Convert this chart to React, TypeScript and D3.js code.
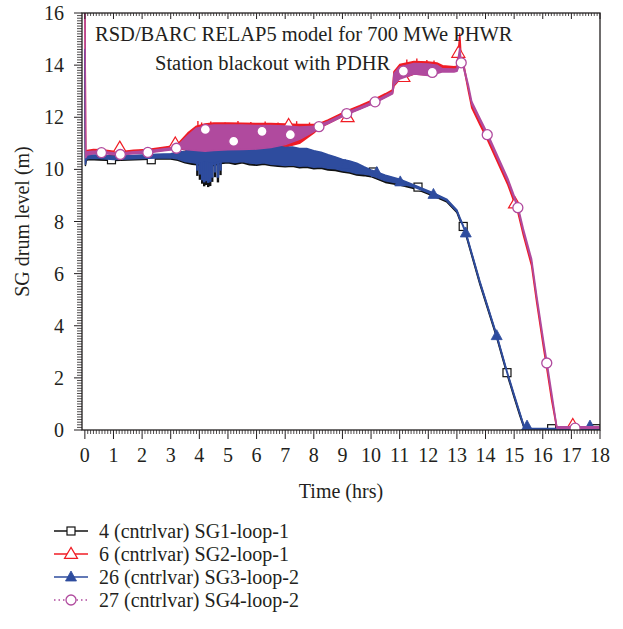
import React from "react";
import * as d3 from "d3";

// ---- axis ticks ----
const xMajorTicks = d3.range(0, 19, 1);
const yMajorTicks = d3.range(0, 17, 2);

// ---- SG1 / SG3 (lower pair) share one time grid (hrs) ----
const lowerT = [0, 0.02, 0.05, 0.15, 0.5, 1.0, 1.5, 2.0, 2.5, 3.0, 3.25, 3.5, 3.75, 4.0, 4.25, 4.5, 4.75, 5.0, 5.25, 5.5, 5.75, 6.0, 6.25, 6.5, 6.75, 7.0, 7.25, 7.5, 7.75, 8.0, 8.25, 8.5, 8.75, 9.0, 9.25, 9.5, 9.75, 10.0, 10.5, 11.0, 11.5, 12.18, 12.64, 13.0, 13.1, 13.2, 13.31, 13.8, 14.39, 14.75, 15.0, 15.2, 15.37, 18.0];
// SG1 drum level envelope (m): lower and upper edge of the oscillation band
const sg1Lo = [14.5, 10.15, 10.35, 10.38, 10.36, 10.34, 10.36, 10.38, 10.4, 10.4, 10.35, 10.25, 10.2, 10.17, 10.2, 10.15, 10.23, 10.25, 10.2, 10.25, 10.18, 10.16, 10.2, 10.15, 10.12, 10.1, 10.12, 10.06, 10.08, 10.02, 10.04, 9.98, 9.96, 9.9, 9.86, 9.78, 9.76, 9.72, 9.5, 9.4, 9.27, 8.98, 8.76, 8.35, 8.06, 7.8, 7.5, 5.6, 3.55, 2.15, 1.25, 0.55, 0.0, 0.0];
const sg1Hi = [14.5, 10.25, 10.55, 10.5, 10.5, 10.46, 10.48, 10.5, 10.54, 10.56, 10.62, 10.66, 10.74, 10.76, 10.82, 10.76, 10.8, 10.78, 10.84, 10.81, 10.86, 10.84, 10.88, 10.82, 10.86, 10.8, 10.82, 10.76, 10.76, 10.68, 10.62, 10.52, 10.44, 10.34, 10.28, 10.2, 10.06, 9.94, 9.74, 9.58, 9.36, 9.06, 8.82, 8.4, 8.12, 7.86, 7.56, 5.68, 3.62, 2.22, 1.32, 0.62, 0.05, 0.05];
// SG3 drum level envelope (m)
const sg3Lo = [14.6, 10.2, 10.4, 10.42, 10.42, 10.38, 10.4, 10.42, 10.44, 10.45, 10.4, 10.3, 10.26, 10.22, 10.25, 10.2, 10.28, 10.3, 10.26, 10.3, 10.24, 10.22, 10.25, 10.2, 10.18, 10.15, 10.17, 10.12, 10.14, 10.08, 10.1, 10.04, 10.02, 9.96, 9.92, 9.84, 9.82, 9.77, 9.56, 9.46, 9.32, 9.02, 8.8, 8.38, 8.1, 7.85, 7.54, 5.65, 3.6, 2.2, 1.3, 0.6, 0.0, 0.0];
const sg3Hi = [14.6, 10.3, 10.6, 10.55, 10.55, 10.5, 10.52, 10.55, 10.58, 10.6, 10.66, 10.7, 10.78, 10.8, 10.86, 10.8, 10.84, 10.82, 10.88, 10.85, 10.9, 10.88, 10.92, 10.86, 10.9, 10.84, 10.86, 10.8, 10.8, 10.72, 10.66, 10.56, 10.48, 10.38, 10.32, 10.24, 10.1, 9.98, 9.78, 9.62, 9.4, 9.1, 8.86, 8.44, 8.16, 7.9, 7.6, 5.72, 3.66, 2.26, 1.36, 0.66, 0.06, 0.06];
// short level dips around 4-5 hrs
const dipT = [3.93, 4.02, 4.1, 4.17, 4.24, 4.31, 4.38, 4.45, 4.55, 4.65, 4.74];
const sg1Dip = [9.75, 9.6, 9.45, 9.35, 9.4, 9.32, 9.36, 9.52, 9.7, 9.5, 9.78];
const sg3Dip = [9.95, 9.8, 9.58, 9.5, 9.55, 9.48, 9.52, 9.68, 9.88, 9.68, 9.95];

// ---- SG2 / SG4 (upper pair) share one time grid (hrs) ----
const upperT = [0, 0.03, 0.08, 0.3, 0.58, 1.0, 1.24, 1.7, 2.2, 2.7, 3.2, 3.31, 3.6, 3.9, 4.2, 4.5, 5.0, 5.5, 6.0, 6.5, 7.0, 7.5, 8.0, 8.18, 8.5, 9.15, 9.6, 10.14, 10.5, 10.75, 10.8, 11.0, 11.5, 12.0, 12.3, 12.5, 12.9, 13.0, 13.05, 13.1, 13.15, 13.23, 13.4, 13.52, 13.81, 14.06, 14.78, 15.13, 15.32, 15.61, 15.79, 16.02, 16.14, 16.31, 16.49, 18.0];
const sg2Lo = [16.8, 10.5, 10.6, 10.66, 10.66, 10.62, 10.6, 10.65, 10.68, 10.75, 10.82, 10.8, 10.72, 10.68, 10.66, 10.68, 10.72, 10.74, 10.76, 10.8, 10.86, 11.0, 11.4, 11.58, 11.76, 12.12, 12.32, 12.57, 12.78, 12.92, 13.2, 13.45, 13.66, 13.62, 13.72, 13.8, 13.8, 13.82, 13.95, 14.3, 14.1, 13.98, 13.0, 12.36, 11.7, 11.15, 9.4, 8.35, 7.48, 6.3, 4.88, 3.2, 2.36, 1.15, 0.06, 0.06];
const sg2Hi = [16.8, 10.6, 10.72, 10.76, 10.75, 10.7, 10.68, 10.73, 10.76, 10.84, 10.92, 11.05, 11.4, 11.66, 11.74, 11.78, 11.78, 11.77, 11.76, 11.76, 11.74, 11.72, 11.72, 11.75, 11.9, 12.24, 12.44, 12.7, 12.9, 13.05, 13.75, 14.02, 14.14, 14.12, 14.08, 13.98, 13.94, 13.96, 14.5, 15.2, 14.25, 14.08, 13.1, 12.46, 11.8, 11.25, 9.5, 8.45, 7.58, 6.4, 4.98, 3.3, 2.46, 1.25, 0.12, 0.12];
const sg4Lo = [16.8, 10.45, 10.55, 10.6, 10.62, 10.56, 10.55, 10.6, 10.63, 10.7, 10.77, 10.8, 10.75, 10.72, 10.7, 10.72, 10.75, 10.76, 10.78, 10.84, 10.95, 11.15, 11.45, 11.6, 11.76, 12.1, 12.3, 12.55, 12.75, 12.9, 13.25, 13.47, 13.66, 13.6, 13.68, 13.74, 13.74, 13.76, 13.9, 14.2, 14.05, 13.9, 13.14, 12.5, 11.85, 11.3, 9.55, 8.5, 7.62, 6.46, 5.05, 3.38, 2.54, 1.33, 0.07, 0.07];
const sg4Hi = [16.8, 10.55, 10.68, 10.7, 10.7, 10.64, 10.63, 10.68, 10.71, 10.78, 10.85, 10.98, 11.3, 11.58, 11.66, 11.7, 11.7, 11.7, 11.68, 11.68, 11.66, 11.63, 11.65, 11.7, 11.84, 12.18, 12.38, 12.63, 12.83, 12.98, 13.68, 13.93, 14.06, 14.04, 14.0, 13.86, 13.85, 13.86, 14.3, 14.65, 14.15, 14.0, 13.24, 12.6, 11.95, 11.4, 9.65, 8.6, 7.72, 6.56, 5.15, 3.48, 2.64, 1.43, 0.12, 0.12];
// SG2 peaks above its band
const sg2SpikeT = [3.95, 4.08, 4.4, 4.9, 5.35, 5.8, 6.3, 6.75, 7.4, 7.85, 11.25, 11.6, 11.95, 12.2];
const sg2SpikeV = [11.86, 11.8, 11.84, 11.8, 11.86, 11.82, 11.84, 11.8, 11.85, 11.8, 14.22, 14.25, 14.2, 14.18];

// ---- symbol positions for each series ----
const sg1MarkT = [0.93, 2.32, 3.78, 5.25, 6.7, 8.5, 10.08, 11.64, 13.22, 14.75, 16.31, 17.86];
const sg1MarkV = [10.37, 10.37, 10.5, 10.55, 10.5, 10.3, 9.9, 9.32, 7.81, 2.2, 0.05, 0.05];
const sg2MarkT = [1.22, 3.16, 5.12, 7.12, 9.18, 11.13, 13.05, 15.03, 17.05];
const sg2MarkV = [10.83, 10.99, 11.2, 11.7, 12.0, 13.54, 14.47, 8.69, 0.19];
const sg3MarkT = [9.1, 10.2, 11.02, 12.18, 13.31, 14.39, 15.45, 17.65];
const sg3MarkV = [10.15, 9.88, 9.52, 9.04, 7.56, 3.62, 0.15, 0.15];
const sg4MarkT = [0.58, 1.24, 2.2, 3.2, 4.21, 5.2, 6.19, 7.18, 8.18, 9.15, 10.14, 11.13, 12.14, 13.15, 14.06, 15.13, 16.14, 17.13];
const sg4MarkV = [10.64, 10.57, 10.65, 10.81, 11.53, 11.08, 11.46, 11.33, 11.64, 12.14, 12.59, 13.77, 13.72, 14.09, 11.33, 8.53, 2.57, 0.07];

const legendLabels = [
  "4 (cntrlvar) SG1-loop-1",
  "6 (cntrlvar) SG2-loop-1",
  "26 (cntrlvar) SG3-loop-2",
  "27 (cntrlvar) SG4-loop-2",
];
const titleLines = ["RSD/BARC RELAP5 model for 700 MWe PHWR", "Station blackout with PDHR"];

const BLACK = "#111111";
const RED = "#f01c24";
const BLUE = "#2e4c9e";
const MAGENTA = "#b04a9e";
const TEXT = "#231f20";
const FONT = "'Liberation Serif', 'Times New Roman', serif";

const W = 623;
const H = 629;
const plot = { left: 82, right: 600, top: 13, bottom: 430 };

type Kind = "square" | "openTri" | "fillTri" | "circle";

function Marker({ kind, cx, cy, color }: { kind: Kind; cx: number; cy: number; color: string }) {
  if (kind === "square") {
    return <rect x={cx - 4} y={cy - 4} width={8} height={8} fill="white" stroke={color} strokeWidth={1.2} />;
  }
  if (kind === "circle") {
    return <circle cx={cx} cy={cy} r={5} fill="white" stroke={color} strokeWidth={1.3} />;
  }
  const w = kind === "openTri" ? 13 : 11;
  const h = kind === "openTri" ? 11 : 10;
  const d = `M${cx},${cy - h * 0.6}L${cx + w / 2},${cy + h * 0.4}L${cx - w / 2},${cy + h * 0.4}Z`;
  return kind === "openTri" ? (
    <path d={d} fill="white" stroke={color} strokeWidth={1.2} />
  ) : (
    <path d={d} fill={color} stroke={color} strokeWidth={0.8} />
  );
}

export default function App() {
  const x = d3.scaleLinear().domain([-0.1, 18]).range([plot.left, plot.right]);
  const y = d3.scaleLinear().domain([0, 16]).range([plot.bottom, plot.top]);

  const band = (t: number[], lo: number[], hi: number[]) =>
    d3
      .area<number>()
      .x((_, i) => x(t[i]))
      .y0((_, i) => y(lo[i]))
      .y1((_, i) => y(hi[i]))(t) ?? "";

  const sg1LoAt = d3.scaleLinear(lowerT, sg1Lo);
  const sg3LoAt = d3.scaleLinear(lowerT, sg3Lo);
  const sg2HiAt = d3.scaleLinear(upperT, sg2Hi);

  const xMinor = d3.range(0, 18.001, 0.1).filter((v) => Math.abs(v - Math.round(v)) > 1e-6);
  const yMinor = d3.range(0, 16.001, 0.1).filter((v) => Math.abs(v / 2 - Math.round(v / 2)) > 1e-6);

  const series = [
    { color: BLACK, kind: "square" as Kind, t: lowerT, lo: sg1Lo, hi: sg1Hi, mt: sg1MarkT, mv: sg1MarkV },
    { color: RED, kind: "openTri" as Kind, t: upperT, lo: sg2Lo, hi: sg2Hi, mt: sg2MarkT, mv: sg2MarkV },
    { color: BLUE, kind: "fillTri" as Kind, t: lowerT, lo: sg3Lo, hi: sg3Hi, mt: sg3MarkT, mv: sg3MarkV },
    { color: MAGENTA, kind: "circle" as Kind, t: upperT, lo: sg4Lo, hi: sg4Hi, mt: sg4MarkT, mv: sg4MarkV },
  ];

  const legendY = [531, 554, 577, 600];
  const legendX = { lineStart: 54, lineEnd: 88, text: 99 };

  return (
    <svg
      width={W}
      height={H}
      style={{ position: "absolute", left: 0, top: 0, background: "white" }}
      fontFamily={FONT}
    >
      <defs>
        <clipPath id="plotClip">
          <rect x={plot.left} y={plot.top} width={plot.right - plot.left} height={plot.bottom - plot.top} />
        </clipPath>
      </defs>

      <g clipPath="url(#plotClip)">
        {series.map((s, si) => (
          <g key={si}>
            <path d={band(s.t, s.lo, s.hi)} fill={s.color} stroke={s.color} strokeWidth={1.5} strokeLinejoin="round" />
            {si === 0 &&
              dipT.map((t, i) => (
                <line key={i} x1={x(t)} x2={x(t)} y1={y(sg1LoAt(t) + 0.05)} y2={y(sg1Dip[i])} stroke={BLACK} strokeWidth={2.4} />
              ))}
            {si === 1 &&
              sg2SpikeT.map((t, i) => (
                <line key={i} x1={x(t)} x2={x(t)} y1={y(sg2HiAt(t) - 0.05)} y2={y(sg2SpikeV[i])} stroke={RED} strokeWidth={1.4} />
              ))}
            {si === 2 &&
              dipT.map((t, i) => (
                <line key={i} x1={x(t)} x2={x(t)} y1={y(sg3LoAt(t) + 0.05)} y2={y(sg3Dip[i])} stroke={BLUE} strokeWidth={2.6} />
              ))}
            {s.mt.map((t, i) => (
              <Marker key={"m" + i} kind={s.kind} cx={x(t)} cy={y(s.mv[i])} color={s.color} />
            ))}
          </g>
        ))}
      </g>

      {/* frame */}
      <rect
        x={plot.left}
        y={plot.top}
        width={plot.right - plot.left}
        height={plot.bottom - plot.top}
        fill="none"
        stroke={TEXT}
        strokeWidth={1.3}
      />

      {/* bottom axis ticks (outward) and top ticks (inward) */}
      {xMinor.map((v, i) => (
        <g key={"xm" + i}>
          <line x1={x(v)} x2={x(v)} y1={plot.bottom} y2={plot.bottom + 4} stroke={TEXT} strokeWidth={0.8} />
          <line x1={x(v)} x2={x(v)} y1={plot.top} y2={plot.top + 3} stroke={TEXT} strokeWidth={0.8} />
        </g>
      ))}
      {xMajorTicks.map((v) => (
        <g key={"xM" + v}>
          <line x1={x(v)} x2={x(v)} y1={plot.bottom} y2={plot.bottom + 9} stroke={TEXT} strokeWidth={1} />
          <line x1={x(v)} x2={x(v)} y1={plot.top} y2={plot.top + 6} stroke={TEXT} strokeWidth={1} />
          <text x={x(v)} y={plot.bottom + 32} textAnchor="middle" fontSize={20} fill={TEXT}>
            {v}
          </text>
        </g>
      ))}

      {/* left axis ticks (outward) */}
      {yMinor.map((v, i) => (
        <line key={"ym" + i} x1={plot.left - 5} x2={plot.left} y1={y(v)} y2={y(v)} stroke={TEXT} strokeWidth={0.8} />
      ))}
      {yMajorTicks.map((v) => (
        <g key={"yM" + v}>
          <line x1={plot.left - 8} x2={plot.left} y1={y(v)} y2={y(v)} stroke={TEXT} strokeWidth={1} />
          <text x={plot.left - 18} y={y(v) + 7} textAnchor="end" fontSize={20} fill={TEXT}>
            {v}
          </text>
        </g>
      ))}

      {/* axis titles */}
      <text x={(plot.left + plot.right) / 2} y={498} textAnchor="middle" fontSize={20} fill={TEXT}>
        Time (hrs)
      </text>
      <text
        transform={`translate(29, ${(plot.top + plot.bottom) / 2}) rotate(-90)`}
        textAnchor="middle"
        fontSize={20}
        fill={TEXT}
      >
        SG drum level (m)
      </text>

      {/* run title inside the frame */}
      <text x={95} y={41} fontSize={20.5} fill={TEXT}>
        {titleLines[0]}
      </text>
      <text x={155} y={70} fontSize={20.5} fill={TEXT}>
        {titleLines[1]}
      </text>

      {/* legend */}
      {series.map((s, i) => (
        <g key={"lg" + i}>
          <line
            x1={legendX.lineStart}
            x2={legendX.lineEnd}
            y1={legendY[i]}
            y2={legendY[i]}
            stroke={s.color}
            strokeWidth={1.4}
            strokeDasharray={i === 3 ? "1.5,3" : undefined}
          />
          <Marker kind={s.kind} cx={(legendX.lineStart + legendX.lineEnd) / 2} cy={legendY[i]} color={s.color} />
          <text x={legendX.text} y={legendY[i] + 7} fontSize={20} fill={TEXT}>
            {legendLabels[i]}
          </text>
        </g>
      ))}
    </svg>
  );
}
